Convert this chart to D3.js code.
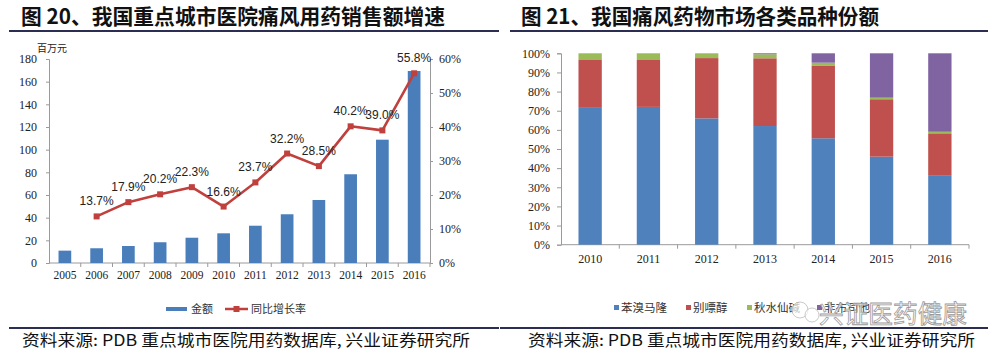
<!DOCTYPE html>
<html><head><meta charset="utf-8">
<script src="https://cdn.jsdelivr.net/npm/d3@7"></script>
<style>
html,body{margin:0;padding:0;background:#fff;}
svg{display:block;}
</style></head>
<body>
<svg id="c" width="1000" height="357"></svg>
<script>
// ---- Data: left chart ----
const years1 = ["2005","2006","2007","2008","2009","2010","2011","2012","2013","2014","2015","2016"];
const salesAmount = [10.9,13.0,15.0,18.3,22.3,26.2,32.9,43.0,55.6,78.3,108.8,169.4];
const growthYears = ["2006","2007","2008","2009","2010","2011","2012","2013","2014","2015","2016"];
const growthRate = [13.7,17.9,20.2,22.3,16.6,23.7,32.2,28.5,40.2,39.0,55.8];
const leftTicks = [0,20,40,60,80,100,120,140,160,180];
const rightTicks = [0,10,20,30,40,50,60];
const legend1 = ["金额","同比增长率"];

// ---- Data: right chart ----
const years2 = ["2010","2011","2012","2013","2014","2015","2016"];
const shareSeries = ["苯溴马隆","别嘌醇","秋水仙碱","非布司他"];
const benzbromarone = [71.5,72.0,66.0,62.0,55.6,46.0,36.0];
const allopurinol   = [25.0,24.5,31.5,35.4,37.8,30.0,22.2];
const colchicine    = [3.5,3.5,2.5,2.1,1.7,0.8,0.8];
const febuxostat    = [0.0,0.0,0.0,0.5,4.9,23.2,41.0];
const pctTicks = [0,10,20,30,40,50,60,70,80,90,100];

const svg = d3.select("#c");
const CJK = "'Noto Sans CJK SC', sans-serif";
const SERIF = "'Liberation Serif','Times New Roman',serif";
const NARROW = "'Liberation Sans Narrow','Arial Narrow','Liberation Sans',sans-serif";
const axisCol = "#9a9a9a";

// ---- Titles and rules ----
svg.append("text").attr("x",21).attr("y",24).attr("font-family",CJK).attr("font-weight",700)
  .attr("font-size",21).attr("fill","#111").attr("textLength",424).attr("lengthAdjust","spacingAndGlyphs")
  .text("图 20、我国重点城市医院痛风用药销售额增速");
svg.append("text").attr("x",521).attr("y",24).attr("font-family",CJK).attr("font-weight",700)
  .attr("font-size",21).attr("fill","#111").attr("textLength",358).attr("lengthAdjust","spacingAndGlyphs")
  .text("图 21、我国痛风药物市场各类品种份额");
svg.append("rect").attr("x",9).attr("y",30).attr("width",490).attr("height",2).attr("fill","#2b2d52");
svg.append("rect").attr("x",510).attr("y",30).attr("width",478).attr("height",2).attr("fill","#2b2d52");
svg.append("rect").attr("x",9).attr("y",327).attr("width",490).attr("height",2).attr("fill","#2b2d52");
svg.append("rect").attr("x",500).attr("y",327).attr("width",488).attr("height",2).attr("fill","#2b2d52");
svg.append("text").attr("x",22).attr("y",346).attr("font-family",CJK).attr("font-size",15.5).attr("fill","#111")
  .attr("textLength",448).attr("lengthAdjust","spacingAndGlyphs")
  .text("资料来源: PDB 重点城市医院用药数据库, 兴业证券研究所");
svg.append("text").attr("x",528).attr("y",346).attr("font-family",CJK).attr("font-size",15.5).attr("fill","#111")
  .attr("textLength",447).attr("lengthAdjust","spacingAndGlyphs")
  .text("资料来源: PDB 重点城市医院用药数据库, 兴业证券研究所");

// ---- Left chart ----
const L = {x0:49, x1:430, y0:263, y1:59};
const x1 = d3.scaleBand().domain(years1).range([L.x0,L.x1]).paddingInner(0.6).paddingOuter(0.3);
const xc = d3.scaleBand().domain(years1).range([L.x0,L.x1]);
const yL = d3.scaleLinear().domain([0,180]).range([L.y0,L.y1]);
const yR = d3.scaleLinear().domain([0,60]).range([L.y0,L.y1]);

const gl = svg.append("g");
const axL = gl.append("g").attr("transform",`translate(${L.x0},0)`)
  .call(d3.axisLeft(yL).tickValues(leftTicks).tickSize(3).tickPadding(9));
axL.select(".domain").attr("stroke",axisCol);
axL.selectAll(".tick line").attr("stroke",axisCol);
axL.selectAll("text").attr("font-family",SERIF).attr("font-size",12).attr("fill","#222");
const axR = gl.append("g").attr("transform",`translate(${L.x1},0)`)
  .call(d3.axisRight(yR).tickValues(rightTicks).tickFormat(d=>d+"%").tickSize(3).tickPadding(6));
axR.select(".domain").attr("stroke",axisCol);
axR.selectAll(".tick line").attr("stroke",axisCol);
axR.selectAll("text").attr("font-family",SERIF).attr("font-size",12).attr("fill","#222");
gl.append("line").attr("x1",L.x0).attr("x2",L.x1).attr("y1",L.y0).attr("y2",L.y0).attr("stroke",axisCol);
gl.selectAll(".xt").data(years1).join("line").attr("class","xt")
  .attr("x1",d=>xc(d)+xc.bandwidth()).attr("x2",d=>xc(d)+xc.bandwidth())
  .attr("y1",L.y0).attr("y2",L.y0+4).attr("stroke",axisCol);
gl.selectAll(".xl").data(years1).join("text").attr("class","xl")
  .attr("x",d=>xc(d)+xc.bandwidth()/2).attr("y",279).attr("text-anchor","middle")
  .attr("font-family",SERIF).attr("font-size",11.5).attr("fill","#222").text(d=>d);
gl.append("text").attr("x",37).attr("y",52).attr("font-family",CJK).attr("font-size",10).attr("fill","#222").text("百万元");

gl.selectAll(".bar").data(years1.map((y,i)=>({y,v:salesAmount[i]}))).join("rect").attr("class","bar")
  .attr("x",d=>x1(d.y)).attr("width",x1.bandwidth())
  .attr("y",d=>yL(d.v)).attr("height",d=>yL(0)-yL(d.v)).attr("fill","#4a7ebb");

const gData = growthYears.map((y,i)=>({y,v:growthRate[i]}));
const lineCol = "#c0403d";
gl.append("path").datum(gData).attr("fill","none").attr("stroke",lineCol).attr("stroke-width",2.6)
  .attr("stroke-linejoin","round")
  .attr("d",d3.line().x(d=>xc(d.y)+xc.bandwidth()/2).y(d=>yR(d.v)));
gl.selectAll(".mk").data(gData).join("rect").attr("class","mk")
  .attr("x",d=>xc(d.y)+xc.bandwidth()/2-3).attr("y",d=>yR(d.v)-3).attr("width",6).attr("height",6)
  .attr("fill",lineCol);
gl.selectAll(".dl").data(gData).join("text").attr("class","dl")
  .attr("x",d=>xc(d.y)+xc.bandwidth()/2).attr("y",d=>yR(d.v)-11).attr("text-anchor","middle")
  .attr("font-family",NARROW).attr("font-size",12).attr("fill","#222").text(d=>d.v.toFixed(1)+"%");

gl.append("rect").attr("x",166).attr("y",307).attr("width",21).attr("height",4).attr("fill","#4a7ebb");
gl.append("text").attr("x",191).attr("y",313).attr("font-family",CJK).attr("font-size",11).attr("fill","#333").text(legend1[0]);
gl.append("line").attr("x1",225).attr("x2",248).attr("y1",309).attr("y2",309).attr("stroke",lineCol).attr("stroke-width",2.5);
gl.append("rect").attr("x",233.5).attr("y",306).attr("width",6).attr("height",6).attr("fill",lineCol);
gl.append("text").attr("x",251).attr("y",313).attr("font-family",CJK).attr("font-size",11).attr("fill","#333").text(legend1[1]);

// ---- Right chart ----
const R = {x0:561, x1:969, y0:244.7, y1:53.3};
const x2 = d3.scaleBand().domain(years2).range([R.x0,R.x1]).paddingInner(0.6).paddingOuter(0.3);
const x2c = d3.scaleBand().domain(years2).range([R.x0,R.x1]);
const yP = d3.scaleLinear().domain([0,100]).range([R.y0,R.y1]);
const colors = ["#4f81bd","#c0504d","#9bbb59","#8064a2"];
const gr = svg.append("g");
const axP = gr.append("g").attr("transform",`translate(${R.x0},0)`)
  .call(d3.axisLeft(yP).tickValues(pctTicks).tickFormat(d=>d+"%").tickSize(4).tickPadding(7));
axP.select(".domain").attr("stroke",axisCol);
axP.selectAll(".tick line").attr("stroke",axisCol);
axP.selectAll("text").attr("font-family",SERIF).attr("font-size",12).attr("fill","#222");
gr.append("line").attr("x1",R.x0).attr("x2",R.x1).attr("y1",R.y0).attr("y2",R.y0).attr("stroke",axisCol);
gr.selectAll(".xt").data(years2).join("line").attr("class","xt")
  .attr("x1",d=>x2c(d)+x2c.bandwidth()).attr("x2",d=>x2c(d)+x2c.bandwidth())
  .attr("y1",R.y0).attr("y2",R.y0+4).attr("stroke",axisCol);
gr.selectAll(".xl").data(years2).join("text").attr("class","xl")
  .attr("x",d=>x2c(d)+x2c.bandwidth()/2).attr("y",263).attr("text-anchor","middle")
  .attr("font-family",SERIF).attr("font-size",12).attr("fill","#222").text(d=>d);

const rows = years2.map((y,i)=>({year:y,"苯溴马隆":benzbromarone[i],"别嘌醇":allopurinol[i],"秋水仙碱":colchicine[i],"非布司他":febuxostat[i]}));
const stacked = d3.stack().keys(shareSeries).offset(d3.stackOffsetExpand)(rows);
stacked.forEach((s,k)=>{
  gr.selectAll(".s"+k).data(s).join("rect").attr("class","s"+k)
    .attr("x",d=>x2(d.data.year)).attr("width",x2.bandwidth())
    .attr("y",d=>yP(d[1]*100)).attr("height",d=>Math.max(0,yP(d[0]*100)-yP(d[1]*100)))
    .attr("fill",colors[k]);
});

const legX = [614,686,747,817];
shareSeries.forEach((n,i)=>{
  gr.append("rect").attr("x",legX[i]).attr("y",305).attr("width",5).attr("height",5).attr("fill",colors[i]);
  gr.append("text").attr("x",legX[i]+7).attr("y",312).attr("font-family",CJK).attr("font-size",11.5).attr("fill","#333").text(n);
});
// watermark overlay (as in the reference)
gr.append("circle").attr("cx",800).attr("cy",310).attr("r",8).attr("fill","#fff").attr("fill-opacity",0.7).attr("stroke","#bbb").attr("stroke-width",0.8);
gr.append("circle").attr("cx",812).attr("cy",315).attr("r",7).attr("fill","#fff").attr("fill-opacity",0.7).attr("stroke","#bbb").attr("stroke-width",0.8);
gr.append("text").attr("x",819).attr("y",323).attr("font-family",CJK).attr("font-size",25)
  .attr("fill","#fff").attr("fill-opacity",0.75).attr("stroke","#9a9a9a").attr("stroke-width",0.8)
  .attr("textLength",148).attr("lengthAdjust","spacingAndGlyphs").text("兴证医药健康");
</script>
</body></html>
